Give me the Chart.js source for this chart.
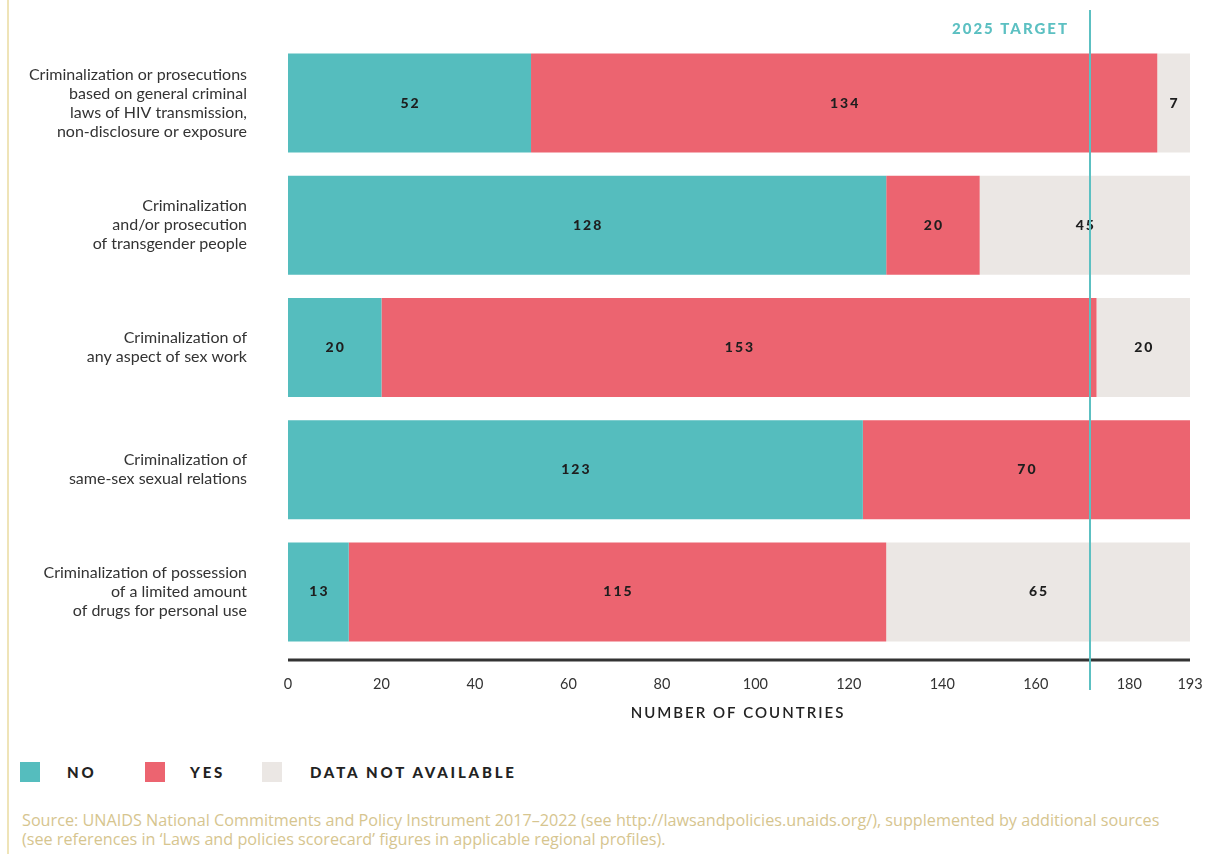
<!DOCTYPE html>
<html><head><meta charset="utf-8">
<script src="https://cdn.jsdelivr.net/npm/chart.js@4.4.1/dist/chart.umd.min.js"></script>
<style>
html,body{margin:0;padding:0;background:#fff;width:1205px;height:854px;overflow:hidden;font-family:Lato,"Open Sans",sans-serif;}
#wrap{position:absolute;left:0;top:0;width:1205px;height:740px;}
#vline{position:absolute;left:7px;top:0;width:2px;height:854px;background:#efe4b8;}
#legend{position:absolute;top:761px;left:0;height:22px;}
.li{position:absolute;top:0;display:flex;align-items:center;height:22px;}
.sw{width:20px;height:20px;display:inline-block;}
.lt{position:absolute;top:0px;font-weight:900;font-size:15px;letter-spacing:2.8px;color:#222;white-space:nowrap;line-height:22px;}
#source{position:absolute;left:22px;top:811px;font-family:"Open Sans",Lato,sans-serif;font-size:16.2px;line-height:19px;color:#d6c58f;white-space:nowrap;}
</style></head>
<body>
<div id="vline"></div>
<div id="wrap"><canvas id="c" width="1205" height="740"></canvas></div>
<div id="legend">
  <div class="li" style="left:20px"><span class="sw" style="background:#55bdbe"></span></div>
  <div class="lt" style="left:67px">NO</div>
  <div class="li" style="left:145px"><span class="sw" style="background:#ec6470"></span></div>
  <div class="lt" style="left:190px">YES</div>
  <div class="li" style="left:262px"><span class="sw" style="background:#ebe7e4"></span></div>
  <div class="lt" style="left:310px">DATA NOT AVAILABLE</div>
</div>
<div id="source">Source: UNAIDS National Commitments and Policy Instrument 2017–2022 (see http://lawsandpolicies.unaids.org/), supplemented by additional sources<br>(see references in ‘Laws and policies scorecard’ figures in applicable regional profiles).</div>
<script>
const categories = [
  ["Criminalization or prosecutions","based on general criminal","laws of HIV transmission,","non-disclosure or exposure"],
  ["Criminalization","and/or prosecution","of transgender people"],
  ["Criminalization of","any aspect of sex work"],
  ["Criminalization of","same-sex sexual relations"],
  ["Criminalization of possession","of a limited amount","of drugs for personal use"]
];
const noValues = [52, 128, 20, 123, 13];
const yesValues = [134, 20, 153, 70, 115];
const naValues = [7, 45, 20, 0, 65];
const tickValues = [0, 20, 40, 60, 80, 100, 120, 140, 160, 180, 193];
const targetValue = 171.5;
const targetLabel = "2025 TARGET";
const axisTitle = "NUMBER OF COUNTRIES";

const TEAL = "#55bdbe", RED = "#ec6470", GREY = "#ebe7e4";

const overlay = {
  id: "overlay",
  afterDatasetsDraw(chart) {
    const ctx = chart.ctx;
    const area = chart.chartArea;
    const xs = chart.scales.x;
    // value labels
    ctx.save();
    ctx.font = "900 14px Lato";
    ctx.letterSpacing = "2px";
    ctx.fillStyle = "#1e1e1e";
    ctx.textAlign = "center";
    ctx.textBaseline = "middle";
    chart.data.datasets.forEach((ds, di) => {
      const meta = chart.getDatasetMeta(di);
      meta.data.forEach((bar, i) => {
        const v = ds.data[i];
        if (!v) return;
        const cx = (bar.x + bar.base) / 2;
        ctx.fillText(String(v), cx + 1, bar.y);
      });
    });
    ctx.restore();
    // baseline
    ctx.save();
    ctx.strokeStyle = "#333";
    ctx.lineWidth = 3;
    ctx.beginPath();
    ctx.moveTo(area.left, area.bottom + 7);
    ctx.lineTo(area.right, area.bottom + 7);
    ctx.stroke();
    // axis title
    ctx.font = "600 15px Lato";
    ctx.letterSpacing = "2px";
    ctx.fillStyle = "#222";
    ctx.textAlign = "center";
    ctx.textBaseline = "middle";
    ctx.fillText(axisTitle, (area.left + area.right) / 2 - 1, 713);
    ctx.restore();
    // target line
    const tx = Math.round(xs.getPixelForValue(targetValue));
    ctx.save();
    ctx.strokeStyle = "#5cc0c2";
    ctx.lineWidth = 2;
    ctx.beginPath();
    ctx.moveTo(tx, 10);
    ctx.lineTo(tx, 690);
    ctx.stroke();
    ctx.font = "900 15px Lato";
    ctx.letterSpacing = "2px";
    ctx.fillStyle = "#5cc0c2";
    ctx.textAlign = "right";
    ctx.textBaseline = "middle";
    ctx.fillText(targetLabel, tx - 21, 29);
    ctx.restore();
  }
};

new Chart(document.getElementById("c"), {
  type: "bar",
  data: {
    labels: categories,
    datasets: [
      { label: "NO", data: noValues, backgroundColor: TEAL },
      { label: "YES", data: yesValues, backgroundColor: RED },
      { label: "DATA NOT AVAILABLE", data: naValues, backgroundColor: GREY }
    ]
  },
  options: {
    indexAxis: "y",
    responsive: false,
    animation: false,
    datasets: { bar: { barPercentage: 0.81, categoryPercentage: 1.0, borderWidth: 0 } },
    layout: { padding: { left: 0, right: 15, top: 42, bottom: 0 } },
    plugins: { legend: { display: false }, tooltip: { enabled: false } },
    scales: {
      x: {
        stacked: true,
        min: 0, max: 193,
        afterBuildTicks: s => { s.ticks = tickValues.map(v => ({ value: v })); },
        afterFit: s => { s.height = 87; s.paddingLeft = 0; s.paddingRight = 0; },
        grid: { display: false, drawTicks: false },
        border: { display: false },
        ticks: { padding: 23, color: "#333", font: { family: "Lato", size: 14.5 }, autoSkip: false, maxRotation: 0 },
        title: { display: false }
      },
      y: {
        stacked: true,
        afterFit: s => { s.width = 288; s.paddingTop = 0; s.paddingBottom = 0; },
        grid: { display: false, drawTicks: false },
        border: { display: false },
        ticks: { padding: 41, color: "#333", font: { family: "Lato", size: 16, lineHeight: 1.19 }, crossAlign: "near" }
      }
    }
  },
  plugins: [overlay]
});
</script>
</body></html>
